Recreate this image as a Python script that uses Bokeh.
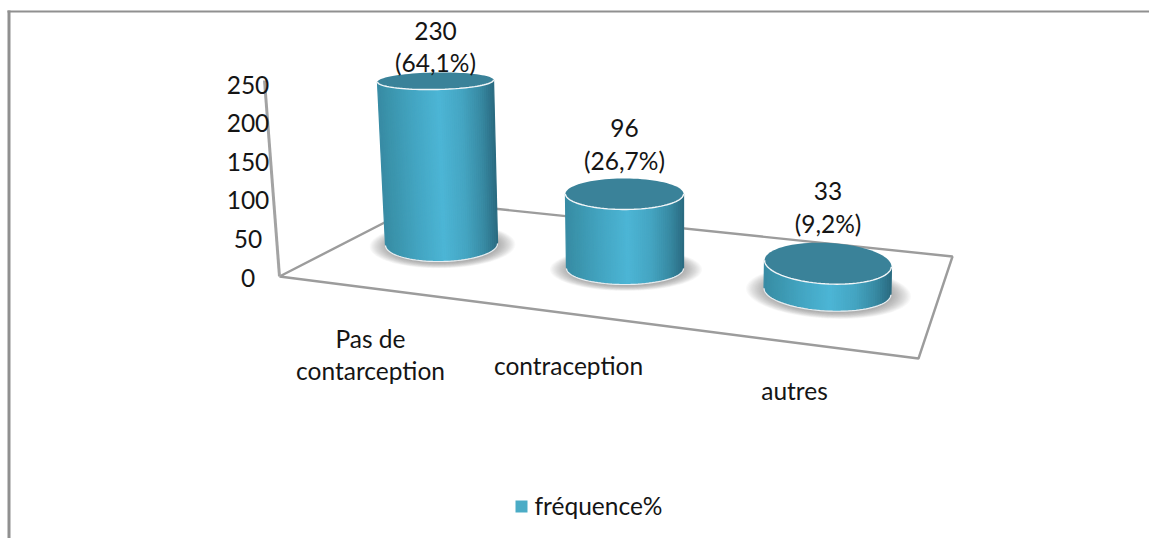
import numpy as np
from bokeh.core.properties import value
from bokeh.embed import file_html
from bokeh.models import ColumnDataSource, Range1d
from bokeh.plotting import figure
from bokeh.resources import INLINE

# ---- data ----
categories = ["Pas de\ncontarception", "contraception", "autres"]
counts = [230, 96, 33]
shares = ["64,1%", "26,7%", "9,2%"]
y_ticks = [0, 50, 100, 150, 200, 250]
series_name = "fréquence%"

# ---- pseudo-3D layout (screen-like coordinates) ----
W, H = 1149, 538
base_x = [441, 624.5, 827]
base_y = [243, 267, 290]
top_dx = [-6, -0.5, 0.5]
units = [0.7065, 0.766, 0.82]        # px per unit at each depth
half_w_bottom = [56, 58.5, 63.5]
half_w_top = [58, 59, 63.5]
half_h_bottom = [17, 16, 19.5]
half_h_top = [8.5, 15.5, 20.5]
tilt = [-1.0, 0.0, 3.0]
label_gap = [18.5, 33.5, 40]
cat_x = [370, 568, 794]
cat_y = [338, 365, 390]
axis_zero = 277
axis_unit = 0.772

floor_x = [279, 425, 952, 918, 279]
floor_y = [276, 201, 256, 358, 276]
wall_x = [279, 264]
wall_y = [276, 80]

FONT = value("Lato")
TXT = "#151515"
FS = "24.5px"

p = figure(width=W, height=H, output_backend="svg", toolbar_location=None,
           x_range=Range1d(0, W), y_range=Range1d(H, 0),
           x_axis_location=None, y_axis_location=None,
           min_border=0, outline_line_color=None, background_fill_color="white")
p.grid.visible = False


def ell(cx, cy, a, b, deg, theta):
    phi = np.radians(deg)
    return (cx + a * np.cos(theta) * np.cos(phi) - b * np.sin(theta) * np.sin(phi),
            cy + a * np.cos(theta) * np.sin(phi) + b * np.sin(theta) * np.cos(phi))


def shade(u):
    stops = [0, .08, .3, .52, .72, .88, 1]
    rs = [0x38, 0x3b, 0x44, 0x4d, 0x45, 0x38, 0x2a]
    gs = [0x8c, 0x94, 0xa6, 0xb6, 0xa5, 0x8a, 0x6a]
    bs = [0xa5, 0xac, 0xc3, 0xd6, 0xc2, 0xa3, 0x80]
    return "#%02x%02x%02x" % (int(np.interp(u, stops, rs)), int(np.interp(u, stops, gs)), int(np.interp(u, stops, bs)))


# frame of the chart page
p.line([8.5, 8.5], [10, 538], line_color="#909090", line_width=3)
p.line([7, 1149], [11, 11], line_color="#909090", line_width=2)

# floor and wall
p.line(floor_x, floor_y, line_color="#9c9c9c", line_width=2.4)
p.line(wall_x, wall_y, line_color="#a3a3a3", line_width=3)

theta_full = np.linspace(0, 2 * np.pi, 90)
for i, v in enumerate(counts):
    bx, by = base_x[i], base_y[i]
    tx, ty = bx + top_dx[i], by - v * units[i]
    # soft shadow
    for k in range(16):
        grow = 1.30 - k * 0.02
        sx, sy = ell(bx + 1, by + 2, half_w_bottom[i] * grow, half_h_bottom[i] * (grow + .04), tilt[i], theta_full)
        p.patch(sx, sy, fill_color="#666666", fill_alpha=0.04, line_color=None)
    # side made of vertical strips
    n = 56
    edges = np.arccos(np.linspace(1, -1, n + 1))
    xs, ys, cols = [], [], []
    for k in range(n):
        th = np.array([edges[k], edges[k + 1]])
        x1, y1 = ell(tx, ty, half_w_top[i], half_h_top[i], tilt[i], th)
        x2, y2 = ell(bx, by, half_w_bottom[i], half_h_bottom[i], tilt[i], th)
        xs.append(list(x1) + list(x2[::-1]))
        ys.append(list(y1) + list(y2[::-1]))
        cols.append(shade(1 - (k + .5) / n))
    p.patches("x", "y", source=ColumnDataSource(dict(x=xs, y=ys, c=cols)),
              fill_color="c", line_color="c", line_width=1.3)
    # rim lines
    arc = np.linspace(0, np.pi, 50)
    rx, ry = ell(bx, by, half_w_bottom[i], half_h_bottom[i], tilt[i], arc)
    p.line(rx, ry + 1, line_color="#e6eef2", line_width=1.2)
    # top cap
    cx_, cy_ = ell(tx, ty, half_w_top[i], half_h_top[i], tilt[i], theta_full)
    p.patch(cx_, cy_, fill_color="#3a8299", line_color=None)
    ax, ay = ell(tx, ty, half_w_top[i], half_h_top[i], tilt[i], arc)
    p.line(ax, ay, line_color="#f2f6f8", line_width=1.4)

# value labels
for i, v in enumerate(counts):
    tx = base_x[i] + top_dx[i]
    ty = base_y[i] - v * units[i]
    p.text([tx], [ty - label_gap[i] - 32], text=[str(v)], text_font=FONT, text_font_size=FS,
           text_color=TXT, text_align="center", text_baseline="middle")
    p.text([tx], [ty - label_gap[i]], text=["(%s)" % shares[i]], text_font=FONT, text_font_size=FS,
           text_color=TXT, text_align="center", text_baseline="middle")

# y tick labels
p.text([247.5] * len(y_ticks), [axis_zero - t * axis_unit for t in y_ticks], text=[str(t) for t in y_ticks],
       text_font=FONT, text_font_size=FS, text_color=TXT, text_align="center", text_baseline="middle")

# category labels
for i, c in enumerate(categories):
    for j, line in enumerate(c.split("\n")):
        p.text([cat_x[i]], [cat_y[i] + j * 32], text=[line], text_font=FONT, text_font_size=FS,
               text_color=TXT, text_align="center", text_baseline="middle")

# legend
p.scatter([521], [506], marker="square", size=12, fill_color="#4bacc6", line_color=None)
p.text([534], [505], text=[series_name], text_font=FONT, text_font_size=FS,
       text_color=TXT, text_align="left", text_baseline="middle")

open("out.html", "w").write(file_html(p, INLINE))
